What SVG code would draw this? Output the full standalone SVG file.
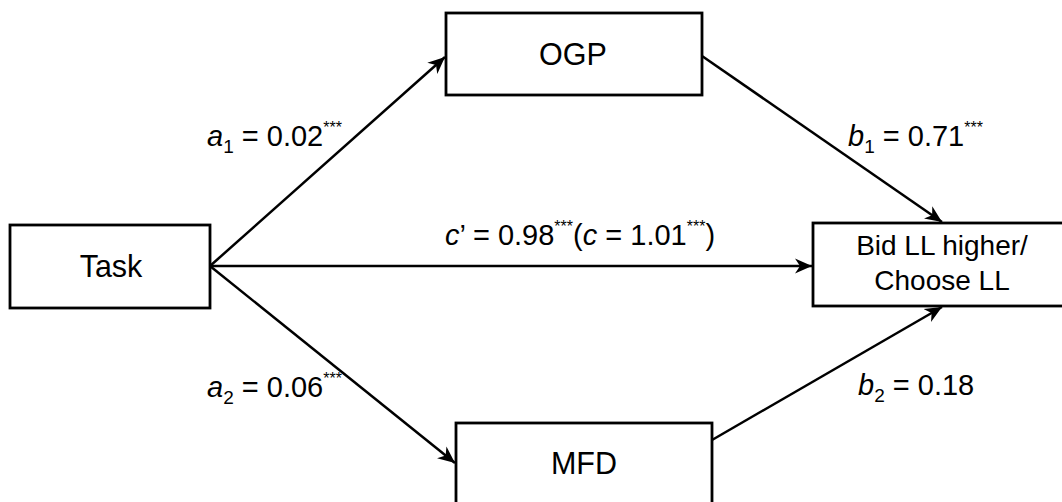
<svg xmlns="http://www.w3.org/2000/svg" width="1062" height="502" viewBox="0 0 1062 502">
<style>
.box{fill:#fff;stroke:#000;stroke-width:2.8}
.t{font-family:"Liberation Sans",Arial,sans-serif;font-size:30.5px;fill:#000;text-anchor:middle}
.t2{font-size:28px}
.l{font-family:"Liberation Sans",Arial,sans-serif;font-size:29px;fill:#000}
.i{font-style:italic}
.sub{font-size:19px}
.sup{font-size:16px}
.c{fill:none;stroke:#000;stroke-width:2.5;marker-end:url(#ah)}
</style>
<defs>
<marker id="ah" markerUnits="userSpaceOnUse" viewBox="-17 -8 18 16" refX="0" refY="0" markerWidth="18" markerHeight="16" orient="auto">
<path d="M-17,-7.5 L0,0 L-17,7.5 L-12,0 Z" fill="#000"/>
</marker>
</defs>
<rect width="1062" height="502" fill="#fff"/>
<g id="connectors">
<line class="c" x1="210" y1="266" x2="445" y2="57"/>
<line class="c" x1="210" y1="266" x2="812" y2="266"/>
<line class="c" x1="210" y1="266" x2="455" y2="463"/>
<line class="c" x1="702" y1="56" x2="942" y2="222"/>
<line class="c" x1="712" y1="440" x2="942" y2="307"/>
</g>
<g id="task"><rect class="box" x="10" y="225" width="200" height="83"/><text class="t" x="111" y="277">Task</text></g>
<g id="ogp"><rect class="box" x="446" y="13" width="256" height="82"/><text class="t" x="573" y="65">OGP</text></g>
<g id="mfd"><rect class="box" x="456" y="423" width="256" height="90"/><text class="t" x="584" y="474">MFD</text></g>
<g id="outcome"><rect class="box" x="813" y="223" width="262" height="83"/><text class="t t2" x="942" y="255">Bid LL higher/</text><text class="t t2" x="942" y="290">Choose LL</text></g>
<g id="labels">
<text class="l" x="207" y="146"><tspan class="i">a</tspan><tspan class="sub" dy="7">1</tspan><tspan dy="-7"> = 0.02</tspan><tspan class="sup" dy="-13">***</tspan></text>
<text class="l" x="848" y="146"><tspan class="i">b</tspan><tspan class="sub" dy="7">1</tspan><tspan dy="-7"> = 0.71</tspan><tspan class="sup" dy="-13">***</tspan></text>
<text class="l" x="445" y="245"><tspan class="i">c</tspan>’ = 0.98<tspan class="sup" dy="-13">***</tspan><tspan dy="13">(</tspan><tspan class="i">c</tspan> = 1.01<tspan class="sup" dy="-13">***</tspan><tspan dy="13">)</tspan></text>
<text class="l" x="207" y="397"><tspan class="i">a</tspan><tspan class="sub" dy="7">2</tspan><tspan dy="-7"> = 0.06</tspan><tspan class="sup" dy="-13">***</tspan></text>
<text class="l" x="858" y="395"><tspan class="i">b</tspan><tspan class="sub" dy="7">2</tspan><tspan dy="-7"> = 0.18</tspan></text>
</g>
</svg>
